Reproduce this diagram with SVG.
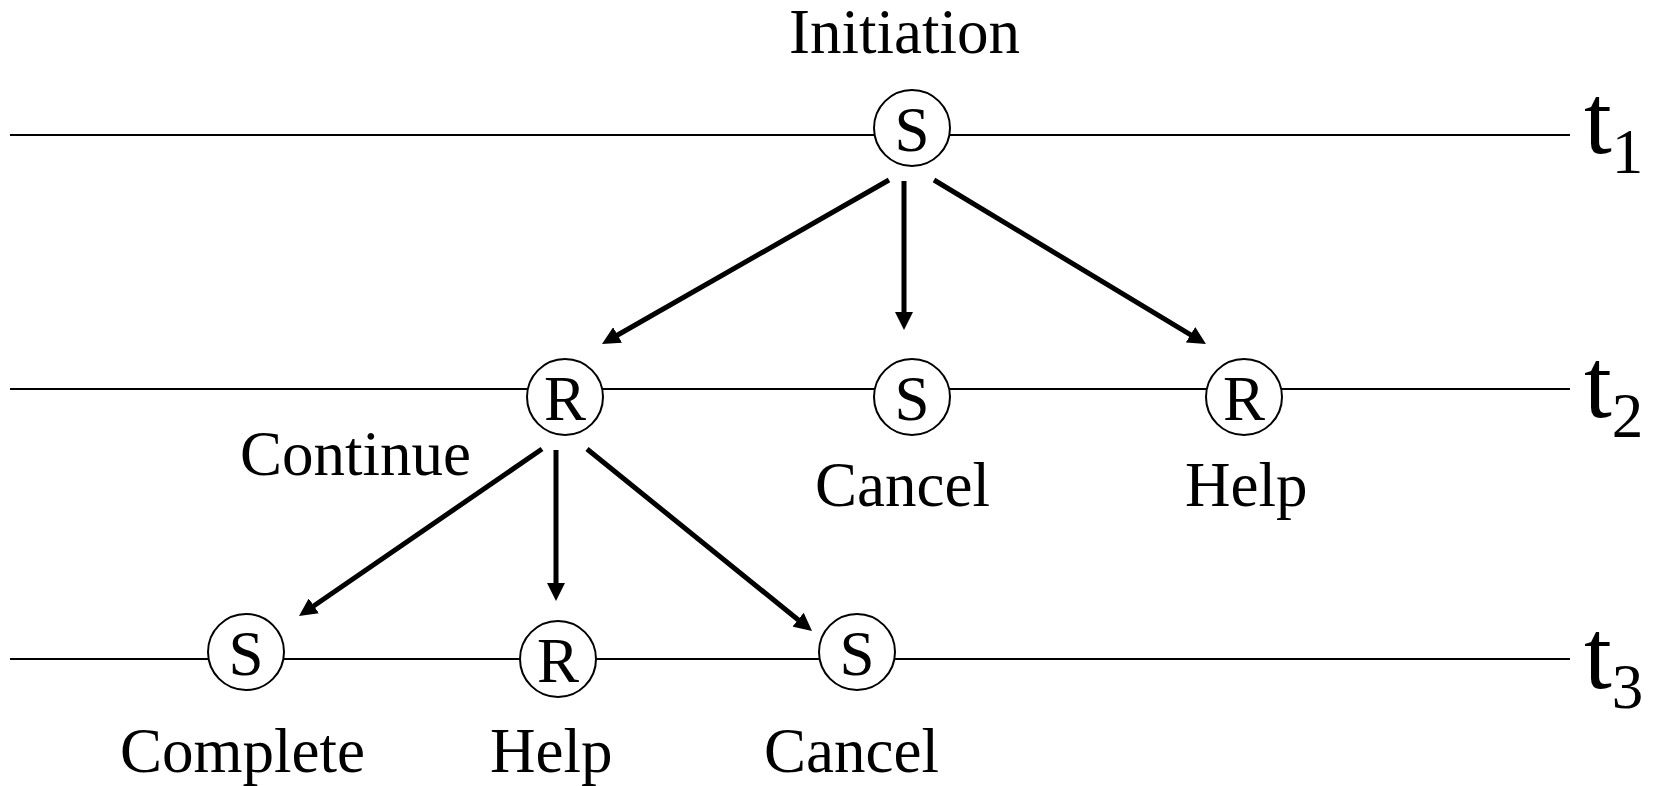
<svg xmlns="http://www.w3.org/2000/svg" width="1660" height="786" viewBox="0 0 1660 786">
  <defs>
    <marker id="arrow" markerUnits="userSpaceOnUse" markerWidth="18" markerHeight="18" refX="6" refY="9" orient="auto">
      <path d="M0,0 L18,9 L0,18 z" fill="#000"/>
    </marker>
    <style>
      .tl { stroke: #000; stroke-width: 2; }
      .node circle { fill: #fff; stroke: #000; stroke-width: 2; }
      .conn line { stroke: #000; stroke-width: 5; marker-end: url(#arrow); }
      text { font-family: "Liberation Serif", "Times New Roman", serif; fill: #000; }
      .lbl { font-size: 63px; }
      .sym { font-size: 63px; text-anchor: middle; }
      .t { font-size: 100px; }
      .sub { font-size: 63px; }
    </style>
  </defs>
  <rect width="1660" height="786" fill="#fff"/>

  <g id="timelines">
    <line class="tl" x1="10" y1="135" x2="1570" y2="135"/>
    <line class="tl" x1="10" y1="389" x2="1570" y2="389"/>
    <line class="tl" x1="10" y1="659" x2="1570" y2="659"/>
    <text class="t" x="1584" y="153">t<tspan class="sub" y="173">1</tspan></text>
    <text class="t" x="1584" y="417">t<tspan class="sub" y="437">2</tspan></text>
    <text class="t" x="1584" y="688">t<tspan class="sub" y="708">3</tspan></text>
  </g>

  <g id="connectors" class="conn">
    <line x1="889" y1="180" x2="612.4" y2="338"/>
    <line x1="904" y1="181" x2="904" y2="318"/>
    <line x1="934" y1="180" x2="1195.7" y2="337.8"/>
    <line x1="542" y1="449" x2="308.9" y2="609.2"/>
    <line x1="556" y1="450" x2="556" y2="589"/>
    <line x1="587" y1="449" x2="802.7" y2="623.5"/>
  </g>

  <g id="n-initiation" class="node">
    <circle cx="912" cy="128" r="38"/>
    <text class="sym" x="912" y="151">S</text>
    <text class="lbl" x="789" y="53">Initiation</text>
  </g>
  <g id="n-continue" class="node">
    <circle cx="565" cy="397" r="38"/>
    <text class="sym" x="565" y="420">R</text>
    <text class="lbl" x="240" y="475">Continue</text>
  </g>
  <g id="n-cancel1" class="node">
    <circle cx="912" cy="397" r="38"/>
    <text class="sym" x="912" y="420">S</text>
    <text class="lbl" x="815" y="506">Cancel</text>
  </g>
  <g id="n-help1" class="node">
    <circle cx="1244" cy="397" r="38"/>
    <text class="sym" x="1244" y="420">R</text>
    <text class="lbl" x="1185" y="506">Help</text>
  </g>
  <g id="n-complete" class="node">
    <circle cx="246" cy="652" r="38"/>
    <text class="sym" x="246" y="675">S</text>
    <text class="lbl" x="120" y="772">Complete</text>
  </g>
  <g id="n-help2" class="node">
    <circle cx="558" cy="659" r="38"/>
    <text class="sym" x="558" y="682">R</text>
    <text class="lbl" x="490" y="772">Help</text>
  </g>
  <g id="n-cancel2" class="node">
    <circle cx="857" cy="652" r="38"/>
    <text class="sym" x="857" y="675">S</text>
    <text class="lbl" x="764" y="772">Cancel</text>
  </g>
</svg>
